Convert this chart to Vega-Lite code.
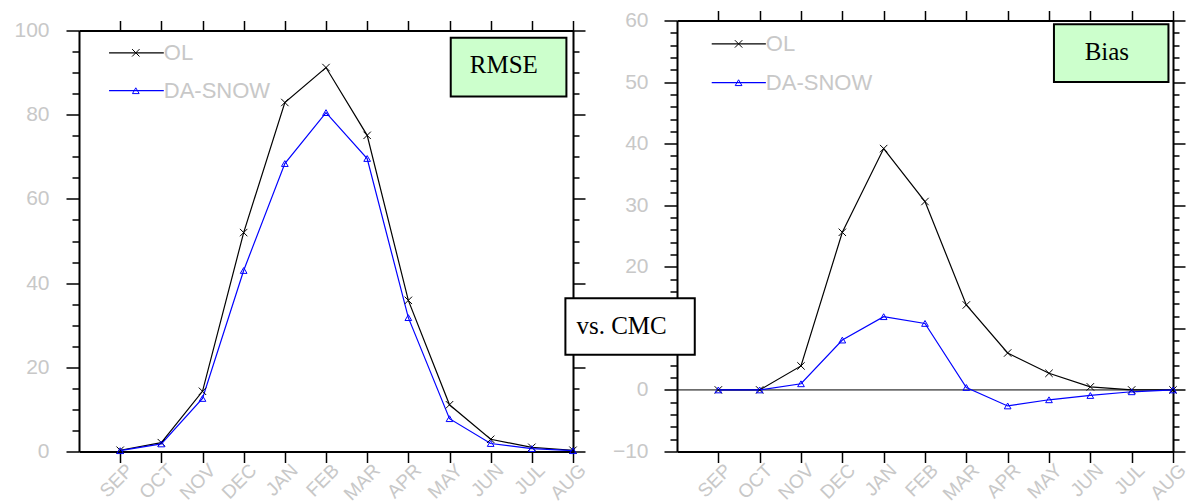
{
  "$schema": "https://vega.github.io/schema/vega-lite/v6.json",
  "padding": {"left": 13, "top": 9.5, "right": 0, "bottom": 0},
  "background": "white",
  "spacing": -26,
  "datasets": {
    "rmse": [
      {"month": "SEP", "idx": 1, "series": "OL", "value": 0.3},
      {"month": "OCT", "idx": 2, "series": "OL", "value": 2.1},
      {"month": "NOV", "idx": 3, "series": "OL", "value": 14.3},
      {"month": "DEC", "idx": 4, "series": "OL", "value": 52.0},
      {"month": "JAN", "idx": 5, "series": "OL", "value": 82.9},
      {"month": "FEB", "idx": 6, "series": "OL", "value": 91.2},
      {"month": "MAR", "idx": 7, "series": "OL", "value": 75.1},
      {"month": "APR", "idx": 8, "series": "OL", "value": 35.9},
      {"month": "MAY", "idx": 9, "series": "OL", "value": 11.1},
      {"month": "JUN", "idx": 10, "series": "OL", "value": 2.9},
      {"month": "JUL", "idx": 11, "series": "OL", "value": 1.0},
      {"month": "AUG", "idx": 12, "series": "OL", "value": 0.3},
      {"month": "SEP", "idx": 1, "series": "DA-SNOW", "value": 0.2},
      {"month": "OCT", "idx": 2, "series": "DA-SNOW", "value": 1.8},
      {"month": "NOV", "idx": 3, "series": "DA-SNOW", "value": 12.6},
      {"month": "DEC", "idx": 4, "series": "DA-SNOW", "value": 43.0},
      {"month": "JAN", "idx": 5, "series": "DA-SNOW", "value": 68.4},
      {"month": "FEB", "idx": 6, "series": "DA-SNOW", "value": 80.5},
      {"month": "MAR", "idx": 7, "series": "DA-SNOW", "value": 69.6},
      {"month": "APR", "idx": 8, "series": "DA-SNOW", "value": 31.8},
      {"month": "MAY", "idx": 9, "series": "DA-SNOW", "value": 7.8},
      {"month": "JUN", "idx": 10, "series": "DA-SNOW", "value": 1.9},
      {"month": "JUL", "idx": 11, "series": "DA-SNOW", "value": 0.7},
      {"month": "AUG", "idx": 12, "series": "DA-SNOW", "value": 0.2}
    ],
    "bias": [
      {"month": "SEP", "idx": 1, "series": "OL", "value": 0.0},
      {"month": "OCT", "idx": 2, "series": "OL", "value": 0.0},
      {"month": "NOV", "idx": 3, "series": "OL", "value": 3.9},
      {"month": "DEC", "idx": 4, "series": "OL", "value": 25.6},
      {"month": "JAN", "idx": 5, "series": "OL", "value": 39.2},
      {"month": "FEB", "idx": 6, "series": "OL", "value": 30.6},
      {"month": "MAR", "idx": 7, "series": "OL", "value": 13.8},
      {"month": "APR", "idx": 8, "series": "OL", "value": 6.0},
      {"month": "MAY", "idx": 9, "series": "OL", "value": 2.7},
      {"month": "JUN", "idx": 10, "series": "OL", "value": 0.5},
      {"month": "JUL", "idx": 11, "series": "OL", "value": 0.0},
      {"month": "AUG", "idx": 12, "series": "OL", "value": 0.0},
      {"month": "SEP", "idx": 1, "series": "DA-SNOW", "value": 0.0},
      {"month": "OCT", "idx": 2, "series": "DA-SNOW", "value": 0.0},
      {"month": "NOV", "idx": 3, "series": "DA-SNOW", "value": 1.0},
      {"month": "DEC", "idx": 4, "series": "DA-SNOW", "value": 8.1},
      {"month": "JAN", "idx": 5, "series": "DA-SNOW", "value": 11.9},
      {"month": "FEB", "idx": 6, "series": "DA-SNOW", "value": 10.8},
      {"month": "MAR", "idx": 7, "series": "DA-SNOW", "value": 0.4},
      {"month": "APR", "idx": 8, "series": "DA-SNOW", "value": -2.6},
      {"month": "MAY", "idx": 9, "series": "DA-SNOW", "value": -1.6},
      {"month": "JUN", "idx": 10, "series": "DA-SNOW", "value": -0.9},
      {"month": "JUL", "idx": 11, "series": "DA-SNOW", "value": -0.3},
      {"month": "AUG", "idx": 12, "series": "DA-SNOW", "value": 0.0}
    ]
  },
  "hconcat": [
    {
      "width": 494,
      "height": 431,
      "resolve": {"axis": {"x": "independent", "y": "independent"}},
      "layer": [
        {
          "data": {"name": "rmse"},
          "transform": [{"filter": "datum.series === 'OL'"}],
          "mark": {"type": "line", "color": "black", "strokeWidth": 1.2},
          "encoding": {
            "x": {"field": "idx", "type": "quantitative", "scale": {"domain": [0, 12], "nice": false, "zero": false},
              "axis": {"orient": "bottom", "values": [1,2,3,4,5,6,7,8,9,10,11,12], "labelExpr": "['','SEP','OCT','NOV','DEC','JAN','FEB','MAR','APR','MAY','JUN','JUL','AUG'][datum.value]", "tickSize": 11, "labelAngle": -45, "labelAlign": "right", "labelBaseline": "top", "labelPadding": -2, "labelOffset": 3, "labelFontSize": 19}},
            "y": {"field": "value", "type": "quantitative", "scale": {"domain": [0, 100], "nice": false, "zero": false, "range": [431, 10]},
              "axis": {"orient": "left", "values": [0,20,40,60,80,100], "tickSize": 13, "labelPadding": 17}}
          }
        },
        {
          "data": {"name": "rmse"},
          "transform": [{"filter": "datum.series === 'DA-SNOW'"}],
          "mark": {"type": "line", "color": "blue", "strokeWidth": 1.2},
          "encoding": {
            "x": {"field": "idx", "type": "quantitative",
              "axis": {"orient": "top", "values": [1,2,3,4,5,6,7,8,9,10,11,12], "tickSize": 10, "labels": false, "offset": -10}},
            "y": {"field": "value", "type": "quantitative",
              "axis": {"orient": "left", "values": [5,10,15,25,30,35,45,50,55,65,70,75,85,90,95], "tickSize": 7, "labels": false, "domain": false}}
          }
        },
        {
          "data": {"name": "rmse"},
          "transform": [{"filter": "datum.series === 'OL'"}],
          "mark": {"type": "point", "shape": "M-1,-1L1,1M-1,1L1,-1", "filled": false, "color": "black", "size": 55, "strokeWidth": 1, "opacity": 1},
          "encoding": {
            "x": {"field": "idx", "type": "quantitative", "axis": null},
            "y": {"field": "value", "type": "quantitative",
              "axis": {"orient": "right", "values": [0,20,40,60,80,100], "tickSize": 12, "labels": false}}
          }
        },
        {
          "data": {"name": "rmse"},
          "transform": [{"filter": "datum.series === 'DA-SNOW'"}],
          "mark": {"type": "point", "shape": "triangle-up", "filled": false, "color": "blue", "size": 45, "strokeWidth": 1, "opacity": 1},
          "encoding": {
            "x": {"field": "idx", "type": "quantitative", "axis": null},
            "y": {"field": "value", "type": "quantitative",
              "axis": {"orient": "right", "values": [5,10,15,25,30,35,45,50,55,65,70,75,85,90,95], "tickSize": 6, "labels": false, "domain": false}}
          }
        },
        {
          "data": {"values": [{}]},
          "mark": {"type": "rule", "color": "black", "strokeWidth": 1.2},
          "encoding": {"x": {"datum": 0.73, "axis": null}, "x2": {"datum": 2.06}, "y": {"datum": 94.7, "axis": null}}
        },
        {
          "data": {"values": [{}]},
          "mark": {"type": "point", "shape": "M-1,-1L1,1M-1,1L1,-1", "filled": false, "color": "black", "size": 55, "strokeWidth": 1, "opacity": 1},
          "encoding": {"x": {"datum": 1.38, "axis": null}, "y": {"datum": 94.7, "axis": null}}
        },
        {
          "data": {"values": [{}]},
          "mark": {"type": "text", "text": "OL", "align": "left", "baseline": "middle", "font": "Liberation Sans", "fontSize": 22, "color": "#c8c8c8"},
          "encoding": {"x": {"datum": 2.06, "axis": null}, "y": {"datum": 94.7, "axis": null}}
        },
        {
          "data": {"values": [{}]},
          "mark": {"type": "rule", "color": "blue", "strokeWidth": 1.2},
          "encoding": {"x": {"datum": 0.73, "axis": null}, "x2": {"datum": 2.06}, "y": {"datum": 85.7, "axis": null}}
        },
        {
          "data": {"values": [{}]},
          "mark": {"type": "point", "shape": "triangle-up", "filled": false, "color": "blue", "size": 45, "strokeWidth": 1, "opacity": 1},
          "encoding": {"x": {"datum": 1.38, "axis": null}, "y": {"datum": 85.7, "axis": null}}
        },
        {
          "data": {"values": [{}]},
          "mark": {"type": "text", "text": "DA-SNOW", "align": "left", "baseline": "middle", "font": "Liberation Sans", "fontSize": 22, "color": "#c8c8c8"},
          "encoding": {"x": {"datum": 2.06, "axis": null}, "y": {"datum": 85.7, "axis": null}}
        },
        {
          "data": {"values": [{}]},
          "mark": {"type": "rect", "fill": "#ccffcc", "stroke": "black", "strokeWidth": 2},
          "encoding": {"x": {"datum": 9.03, "axis": null}, "x2": {"datum": 11.84}, "y": {"datum": 98.3, "axis": null}, "y2": {"datum": 84.3}}
        },
        {
          "data": {"values": [{}]},
          "mark": {"type": "text", "text": "RMSE", "align": "center", "baseline": "alphabetic", "font": "Liberation Serif", "fontSize": 25, "color": "black"},
          "encoding": {"x": {"datum": 10.32, "axis": null}, "y": {"datum": 89.8, "axis": null}}
        }
      ]
    },
    {
      "width": 496,
      "height": 431,
      "resolve": {"axis": {"x": "independent", "y": "independent"}},
      "layer": [
        {
          "data": {"values": [{}]},
          "mark": {"type": "rule", "color": "black", "strokeWidth": 1},
          "encoding": {"x": {"datum": 0, "axis": null}, "x2": {"datum": 12}, "y": {"datum": 0, "axis": null}}
        },
        {
          "data": {"name": "bias"},
          "transform": [{"filter": "datum.series === 'OL'"}],
          "mark": {"type": "line", "color": "black", "strokeWidth": 1.2},
          "encoding": {
            "x": {"field": "idx", "type": "quantitative", "scale": {"domain": [0, 12], "nice": false, "zero": false},
              "axis": {"orient": "bottom", "values": [1,2,3,4,5,6,7,8,9,10,11,12], "labelExpr": "['','SEP','OCT','NOV','DEC','JAN','FEB','MAR','APR','MAY','JUN','JUL','AUG'][datum.value]", "tickSize": 11, "labelAngle": -45, "labelAlign": "right", "labelBaseline": "top", "labelPadding": -2, "labelOffset": 3, "labelFontSize": 19}},
            "y": {"field": "value", "type": "quantitative", "scale": {"domain": [-10, 60], "nice": false, "zero": false},
              "axis": {"orient": "left", "values": [-10,0,10,20,30,40,50,60], "tickSize": 13, "labelPadding": 16}}
          }
        },
        {
          "data": {"name": "bias"},
          "transform": [{"filter": "datum.series === 'DA-SNOW'"}],
          "mark": {"type": "line", "color": "blue", "strokeWidth": 1.2},
          "encoding": {
            "x": {"field": "idx", "type": "quantitative",
              "axis": {"orient": "top", "values": [1,2,3,4,5,6,7,8,9,10,11,12], "tickSize": 10, "labels": false}},
            "y": {"field": "value", "type": "quantitative",
              "axis": {"orient": "left", "values": [-8,-6,-4,-2,2,4,6,8,12,14,16,18,22,24,26,28,32,34,36,38,42,44,46,48,52,54,56,58], "tickSize": 7, "labels": false, "domain": false}}
          }
        },
        {
          "data": {"name": "bias"},
          "transform": [{"filter": "datum.series === 'OL'"}],
          "mark": {"type": "point", "shape": "M-1,-1L1,1M-1,1L1,-1", "filled": false, "color": "black", "size": 55, "strokeWidth": 1, "opacity": 1},
          "encoding": {
            "x": {"field": "idx", "type": "quantitative", "axis": null},
            "y": {"field": "value", "type": "quantitative",
              "axis": {"orient": "right", "values": [-10,0,10,20,30,40,50,60], "tickSize": 12, "labels": false}}
          }
        },
        {
          "data": {"name": "bias"},
          "transform": [{"filter": "datum.series === 'DA-SNOW'"}],
          "mark": {"type": "point", "shape": "triangle-up", "filled": false, "color": "blue", "size": 45, "strokeWidth": 1, "opacity": 1},
          "encoding": {
            "x": {"field": "idx", "type": "quantitative", "axis": null},
            "y": {"field": "value", "type": "quantitative",
              "axis": {"orient": "right", "values": [-8,-6,-4,-2,2,4,6,8,12,14,16,18,22,24,26,28,32,34,36,38,42,44,46,48,52,54,56,58], "tickSize": 6, "labels": false, "domain": false}}
          }
        },
        {
          "data": {"values": [{}]},
          "mark": {"type": "rule", "color": "black", "strokeWidth": 1.2},
          "encoding": {"x": {"datum": 0.84, "axis": null}, "x2": {"datum": 2.15}, "y": {"datum": 56.2, "axis": null}}
        },
        {
          "data": {"values": [{}]},
          "mark": {"type": "point", "shape": "M-1,-1L1,1M-1,1L1,-1", "filled": false, "color": "black", "size": 55, "strokeWidth": 1, "opacity": 1},
          "encoding": {"x": {"datum": 1.49, "axis": null}, "y": {"datum": 56.2, "axis": null}}
        },
        {
          "data": {"values": [{}]},
          "mark": {"type": "text", "text": "OL", "align": "left", "baseline": "middle", "font": "Liberation Sans", "fontSize": 22, "color": "#c8c8c8"},
          "encoding": {"x": {"datum": 2.15, "axis": null}, "y": {"datum": 56.2, "axis": null}}
        },
        {
          "data": {"values": [{}]},
          "mark": {"type": "rule", "color": "blue", "strokeWidth": 1.2},
          "encoding": {"x": {"datum": 0.84, "axis": null}, "x2": {"datum": 2.15}, "y": {"datum": 49.9, "axis": null}}
        },
        {
          "data": {"values": [{}]},
          "mark": {"type": "point", "shape": "triangle-up", "filled": false, "color": "blue", "size": 45, "strokeWidth": 1, "opacity": 1},
          "encoding": {"x": {"datum": 1.49, "axis": null}, "y": {"datum": 49.9, "axis": null}}
        },
        {
          "data": {"values": [{}]},
          "mark": {"type": "text", "text": "DA-SNOW", "align": "left", "baseline": "middle", "font": "Liberation Sans", "fontSize": 22, "color": "#c8c8c8"},
          "encoding": {"x": {"datum": 2.15, "axis": null}, "y": {"datum": 49.9, "axis": null}}
        },
        {
          "data": {"values": [{}]},
          "mark": {"type": "rect", "fill": "#ccffcc", "stroke": "black", "strokeWidth": 2},
          "encoding": {"x": {"datum": 9.12, "axis": null}, "x2": {"datum": 11.89}, "y": {"datum": 59.4, "axis": null}, "y2": {"datum": 50.0}}
        },
        {
          "data": {"values": [{}]},
          "mark": {"type": "text", "text": "Bias", "align": "center", "baseline": "alphabetic", "font": "Liberation Serif", "fontSize": 25, "color": "black"},
          "encoding": {"x": {"datum": 10.4, "axis": null}, "y": {"datum": 53.6, "axis": null}}
        },
        {
          "data": {"values": [{}]},
          "mark": {"type": "rect", "fill": "white", "stroke": "black", "strokeWidth": 2},
          "encoding": {"x": {"datum": -2.7, "axis": null}, "x2": {"datum": 0.43}, "y": {"datum": 14.9, "axis": null}, "y2": {"datum": 5.7}}
        },
        {
          "data": {"values": [{}]},
          "mark": {"type": "text", "text": "vs. CMC", "align": "center", "baseline": "alphabetic", "font": "Liberation Serif", "fontSize": 25, "color": "black"},
          "encoding": {"x": {"datum": -1.34, "axis": null}, "y": {"datum": 9.1, "axis": null}}
        }
      ]
    }
  ],
  "config": {
    "view": {"stroke": null},
    "concat": {"spacing": -26},
    "axis": {"grid": false, "title": null, "domainColor": "black", "domainWidth": 2, "tickColor": "black", "tickWidth": 1.5, "labelColor": "#c8c8c8", "labelFont": "Liberation Sans", "labelFontSize": 21, "labelOverlap": false, "labelFlush": false, "labelBound": false}
  }
}
